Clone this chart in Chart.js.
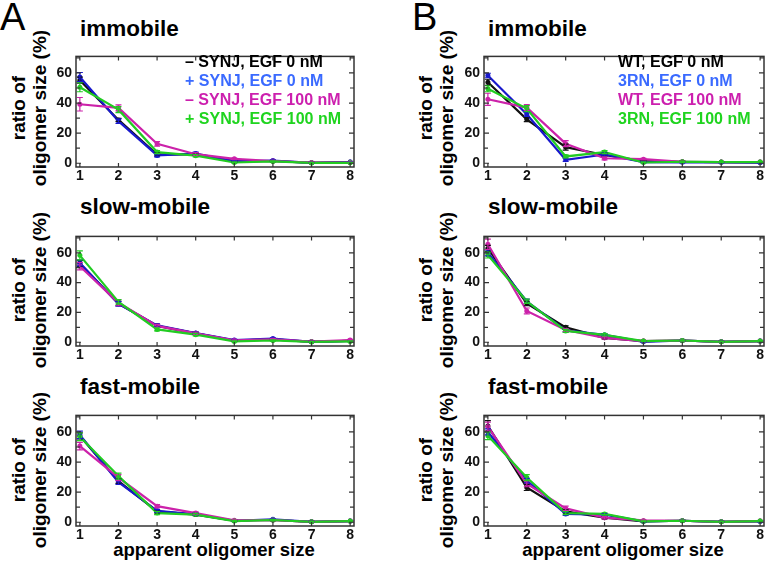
<!DOCTYPE html>
<html>
<head>
<meta charset="utf-8">
<script src="https://cdn.jsdelivr.net/npm/chart.js@4.4.0/dist/chart.umd.min.js"></script>
<style>
  body { margin: 0; width: 765px; height: 563px; overflow: hidden; background: #fff; position: relative;
         font-family: "Liberation Sans", Arial, sans-serif; color: #000; }
  .abs { position: absolute; white-space: nowrap; }
  .letter { font-size: 38px; line-height: 1; }
  .title { font-size: 22.5px; font-weight: bold; line-height: 1; }
  .ylab { width: 200px; height: 42px; font-size: 19px; font-weight: bold; line-height: 21px;
          text-align: center; transform: rotate(-90deg); }
  .xlab { width: 300px; font-size: 18.5px; font-weight: bold; line-height: 1; text-align: center; }
  .legend { font-size: 16px; font-weight: bold; line-height: 18.9px; z-index: 2; }
  canvas { position: absolute; }
</style>
</head>
<body>
<div class="abs letter" style="left:0px;top:-2px">A</div>
<div class="abs letter" style="left:412px;top:-2px">B</div>

<div class="abs title" style="left:80px;top:18px">immobile</div>
<div class="abs title" style="left:80px;top:196px">slow-mobile</div>
<div class="abs title" style="left:80px;top:376px">fast-mobile</div>
<div class="abs title" style="left:488px;top:18px">immobile</div>
<div class="abs title" style="left:488px;top:196px">slow-mobile</div>
<div class="abs title" style="left:488px;top:376px">fast-mobile</div>

<div class="abs ylab" style="left:-71px;top:87px">ratio of<br>oligomer size (%)</div>
<div class="abs ylab" style="left:-71px;top:269px">ratio of<br>oligomer size (%)</div>
<div class="abs ylab" style="left:-71px;top:449px">ratio of<br>oligomer size (%)</div>
<div class="abs ylab" style="left:336px;top:87px">ratio of<br>oligomer size (%)</div>
<div class="abs ylab" style="left:336px;top:269px">ratio of<br>oligomer size (%)</div>
<div class="abs ylab" style="left:336px;top:449px">ratio of<br>oligomer size (%)</div>

<div class="abs xlab" style="left:64px;top:541px">apparent oligomer size</div>
<div class="abs xlab" style="left:473px;top:541px">apparent oligomer size</div>

<div class="abs legend" id="legendA" style="left:185px;top:53px"></div>
<div class="abs legend" id="legendB" style="left:618px;top:53px"></div>

<canvas id="aImm"></canvas>
<canvas id="aSlow"></canvas>
<canvas id="aFast"></canvas>
<canvas id="bImm"></canvas>
<canvas id="bSlow"></canvas>
<canvas id="bFast"></canvas>

<script>
// apparent oligomer size (x) and y tick labels
const sizes = [1, 2, 3, 4, 5, 6, 7, 8];
const yTicks = [0, 20, 40, 60];

const legendA = ['\u2013 SYNJ, EGF 0 nM', '+ SYNJ, EGF 0 nM', '\u2013 SYNJ, EGF 100 nM', '+ SYNJ, EGF 100 nM'];
const legendB = ['WT, EGF 0 nM', '3RN, EGF 0 nM', 'WT, EGF 100 nM', '3RN, EGF 100 nM'];

// A, immobile
const aImmBlack   = [55.2, 28.8, 5.8, 6.0, 1.2, 1.5, 0.3, 0.8];
const aImmBlue    = [57.3, 28.0, 5.2, 6.4, 1.2, 1.8, 0.3, 0.8];
const aImmMagenta = [39.2, 36.8, 12.9, 6.0, 2.9, 1.5, 0.5, 0.5];
const aImmGreen   = [50.5, 35.6, 7.4, 5.0, 0.5, 1.2, 0.2, 0.3];
const aImmErr     = [[2, 1, 1, 0.8, 0.4, 0.4, 0.3, 0.3], [3, 1.5, 1, 1, 0.5, 0.5, 0.3, 0.3],
                     [4.5, 2, 1.5, 1, 0.5, 0.5, 0.3, 0.3], [3, 2, 1, 0.8, 0.4, 0.4, 0.3, 0.3]];
// A, slow-mobile
const aSlowBlack   = [52.8, 26.0, 11.0, 6.0, 1.2, 2.0, 0.3, 1.0];
const aSlowBlue    = [53.2, 25.7, 11.3, 6.2, 1.5, 2.5, 0.3, 1.0];
const aSlowMagenta = [51.0, 26.5, 11.0, 6.0, 1.3, 2.0, 0.5, 1.5];
const aSlowGreen   = [58.3, 27.1, 8.6, 5.1, 0.6, 1.2, 0.2, 0.6];
const aSlowErr     = [[2, 1.5, 1, 0.8, 0.4, 0.4, 0.3, 0.3], [2, 1.5, 1, 0.8, 0.4, 0.4, 0.3, 0.3],
                      [2.5, 2, 1, 0.8, 0.4, 0.4, 0.3, 0.5], [3, 1.5, 1, 0.8, 0.4, 0.4, 0.3, 0.3]];
// A, fast-mobile
const aFastBlack   = [57.4, 27.3, 7.2, 5.1, 1.0, 1.5, 0.3, 0.8];
const aFastBlue    = [58.0, 26.6, 7.6, 5.3, 1.0, 2.0, 0.3, 0.8];
const aFastMagenta = [50.6, 29.7, 10.7, 6.1, 1.3, 1.5, 0.3, 0.8];
const aFastGreen   = [56.8, 30.7, 6.1, 5.1, 0.8, 1.5, 0.3, 0.8];
const aFastErr     = [[2, 1.5, 1, 0.8, 0.4, 0.4, 0.3, 0.3], [2.5, 1.5, 1, 0.8, 0.4, 0.4, 0.3, 0.3],
                      [2.5, 2, 1, 0.8, 0.4, 0.4, 0.3, 0.3], [2.5, 2, 1, 0.8, 0.4, 0.4, 0.3, 0.3]];
// B, immobile
const bImmBlack   = [53.8, 29.2, 10.7, 5.5, 1.4, 1.0, 0.8, 0.8];
const bImmBlue    = [58.3, 32.6, 2.3, 5.8, 0.8, 0.6, 0.6, 0.3];
const bImmMagenta = [42.5, 37.0, 13.0, 3.3, 2.7, 1.0, 0.8, 0.8];
const bImmGreen   = [49.5, 36.3, 4.5, 7.4, 0.5, 1.0, 0.8, 0.8];
const bImmErr     = [[2, 1.5, 2, 1, 0.4, 0.4, 0.3, 0.3], [1.5, 1.5, 1, 1, 0.4, 0.4, 0.3, 0.3],
                     [4, 2, 2, 1, 0.5, 0.4, 0.3, 0.3], [2, 2, 1, 1, 0.4, 0.4, 0.3, 0.3]];
// B, slow-mobile
const bSlowBlack   = [63.0, 26.0, 10.0, 3.0, 0.8, 1.2, 0.3, 0.8];
const bSlowBlue    = [60.0, 27.5, 8.0, 5.0, 0.3, 1.2, 0.3, 0.8];
const bSlowMagenta = [65.7, 21.0, 8.2, 3.0, 0.8, 1.2, 0.3, 0.8];
const bSlowGreen   = [58.5, 27.5, 7.6, 5.0, 0.8, 1.2, 0.3, 0.8];
const bSlowErr     = [[2, 1.5, 1, 0.8, 0.4, 0.4, 0.3, 0.3], [2, 1.5, 1, 0.8, 0.4, 0.4, 0.3, 0.3],
                      [3.5, 2, 1, 0.8, 0.4, 0.4, 0.3, 0.3], [2, 1.5, 1, 0.8, 0.4, 0.4, 0.3, 0.3]];
// B, fast-mobile
const bFastBlack   = [64.0, 23.1, 7.2, 3.0, 0.6, 1.0, 0.3, 0.8];
const bFastBlue    = [60.0, 27.7, 5.5, 5.0, 0.6, 1.0, 0.3, 0.5];
const bFastMagenta = [63.5, 25.6, 9.2, 3.0, 1.2, 1.0, 0.3, 0.8];
const bFastGreen   = [57.4, 29.7, 6.1, 5.5, 0.6, 1.0, 0.3, 0.8];
const bFastErr     = [[3.5, 2, 1, 0.8, 0.4, 0.4, 0.3, 0.3], [2, 1.5, 1, 0.8, 0.4, 0.4, 0.3, 0.3],
                      [3, 2, 1.5, 0.8, 0.4, 0.4, 0.3, 0.3], [2.5, 2, 1, 0.8, 0.4, 0.4, 0.3, 0.3]];

const lineColors = ['#111111', '#1818cc', '#cc22aa', '#22cc22'];
const textColors = ['#000000', '#3a6aff', '#cc1fae', '#1fd41f'];

// legends as plain text
function fillLegend(id, labels) {
    const el = document.getElementById(id);
    el.innerHTML = labels.map((t, i) => `<div style="color:${textColors[i]}">${t}</div>`).join('');
}
fillLegend('legendA', legendA);
fillLegend('legendB', legendB);

// box with inward ticks + error bars
const framePlugin = {
    id: 'frame',
    afterDatasetsDraw(chart) {
        const { ctx, scales: { x, y } } = chart;
        ctx.save();
        chart.data.datasets.forEach(ds => {
            ctx.strokeStyle = ds.borderColor;
            ctx.lineWidth = 1.2;
            ctx.beginPath();
            ds.data.forEach((p, j) => {
                const e = ds.errors[j];
                const px = x.getPixelForValue(p.x);
                const top = y.getPixelForValue(p.y + e);
                const bot = y.getPixelForValue(p.y - e);
                ctx.moveTo(px, top); ctx.lineTo(px, bot);
                ctx.moveTo(px - 3, top); ctx.lineTo(px + 3, top);
                ctx.moveTo(px - 3, bot); ctx.lineTo(px + 3, bot);
            });
            ctx.stroke();
        });
        ctx.restore();
    },
    afterDraw(chart) {
        const { ctx, chartArea: a, scales: { x, y } } = chart;
        ctx.save();
        ctx.strokeStyle = '#333';
        ctx.lineWidth = 1.5;
        ctx.strokeRect(a.left, a.top, a.right - a.left, a.bottom - a.top);
        ctx.lineWidth = 1.2;
        ctx.beginPath();
        for (let v = 0; v <= 70; v += 10) {
            const py = y.getPixelForValue(v);
            const len = v % 20 === 0 ? 5 : 4;
            ctx.moveTo(a.left, py); ctx.lineTo(a.left + len, py);
            ctx.moveTo(a.right, py); ctx.lineTo(a.right - len, py);
        }
        sizes.forEach(v => {
            const px = x.getPixelForValue(v);
            ctx.moveTo(px, a.bottom); ctx.lineTo(px, a.bottom - 4);
            ctx.moveTo(px, a.top); ctx.lineTo(px, a.top + 4);
        });
        ctx.stroke();
        ctx.restore();
    }
};

const tickFont = { family: 'Liberation Sans', size: 14, weight: 'bold' };

function makePanel(id, box, series, errs) {
    const canvas = document.getElementById(id);
    canvas.width = box.w + 44;
    canvas.height = box.h + 26;
    canvas.style.left = (box.l - 40) + 'px';
    canvas.style.top = (box.t - 4) + 'px';

    const datasets = series.map((vals, i) => ({
        data: sizes.map((s, j) => ({ x: s, y: vals[j] })),
        errors: errs[i],
        borderColor: lineColors[i],
        backgroundColor: lineColors[i],
        borderWidth: 2.2,
        pointRadius: 2.5,
        pointBorderWidth: 0,
        tension: 0,
        order: 3 - i
    }));

    return new Chart(canvas.getContext('2d'), {
        type: 'line',
        data: { datasets: datasets },
        options: {
            animation: false,
            responsive: false,
            devicePixelRatio: 1,
            layout: { padding: { top: 4, right: 4, left: 0, bottom: 0 } },
            plugins: { legend: { display: false }, tooltip: { enabled: false } },
            scales: {
                x: {
                    type: 'linear', min: 0.9, max: 8.1,
                    afterFit(s) { s.height = 22; },
                    afterBuildTicks(s) { s.ticks = sizes.map(v => ({ value: v })); },
                    grid: { display: false, drawTicks: false },
                    border: { display: false },
                    ticks: { padding: 1, color: '#111', font: tickFont, maxRotation: 0, autoSkip: false }
                },
                y: {
                    min: -2.5, max: 71,
                    afterFit(s) { s.width = 40; },
                    afterBuildTicks(s) { s.ticks = yTicks.map(v => ({ value: v })); },
                    grid: { display: false, drawTicks: false },
                    border: { display: false },
                    ticks: { padding: 4, color: '#111', font: tickFont }
                }
            }
        },
        plugins: [framePlugin]
    });
}

const boxA = [{ l: 76, t: 48, w: 278, h: 119 }, { l: 76, t: 228, w: 278, h: 118 }, { l: 76, t: 407, w: 278, h: 119 }];
const boxB = [{ l: 484, t: 48, w: 280, h: 119 }, { l: 484, t: 228, w: 280, h: 118 }, { l: 484, t: 407, w: 280, h: 119 }];

makePanel('aImm', boxA[0], [aImmBlack, aImmBlue, aImmMagenta, aImmGreen], aImmErr);
makePanel('aSlow', boxA[1], [aSlowBlack, aSlowBlue, aSlowMagenta, aSlowGreen], aSlowErr);
makePanel('aFast', boxA[2], [aFastBlack, aFastBlue, aFastMagenta, aFastGreen], aFastErr);
makePanel('bImm', boxB[0], [bImmBlack, bImmBlue, bImmMagenta, bImmGreen], bImmErr);
makePanel('bSlow', boxB[1], [bSlowBlack, bSlowBlue, bSlowMagenta, bSlowGreen], bSlowErr);
makePanel('bFast', boxB[2], [bFastBlack, bFastBlue, bFastMagenta, bFastGreen], bFastErr);
</script>
</body>
</html>
